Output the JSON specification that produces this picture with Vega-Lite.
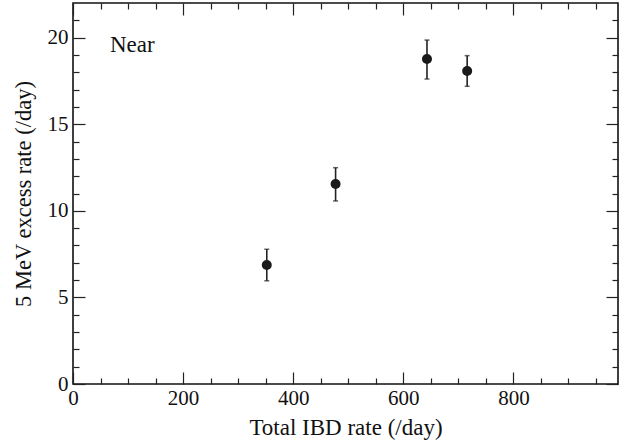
{
  "$schema": "https://vega.github.io/schema/vega-lite/v6.json",
  "width": 545,
  "height": 381,
  "autosize": {"type": "none"},
  "padding": {"left": 73, "top": 3, "right": 12, "bottom": 61},
  "background": "white",
  "config": {
    "view": {"stroke": "#111", "strokeWidth": 1.6},
    "axis": {"grid": false, "domain": false, "labelFont": "Liberation Serif", "titleFont": "Liberation Serif", "labelColor": "#111", "titleColor": "#111", "tickColor": "#222", "tickWidth": 1.2, "labelFlush": false, "labelOverlap": false, "titleFontWeight": "normal"}
  },
  "data": {
    "values": [
      {"rate": 352, "excess": 6.87, "lo": 5.96, "hi": 7.78},
      {"rate": 477, "excess": 11.55, "lo": 10.57, "hi": 12.49},
      {"rate": 643, "excess": 18.77, "lo": 17.61, "hi": 19.86},
      {"rate": 716, "excess": 18.07, "lo": 17.19, "hi": 18.96}
    ]
  },
  "resolve": {"axis": {"x": "independent", "y": "independent"}},
  "layer": [
    {
      "mark": {"type": "rule", "color": "#222", "strokeWidth": 1.6},
      "encoding": {
        "x": {"field": "rate", "type": "quantitative", "scale": {"domain": [0, 990], "nice": false, "zero": false},
          "axis": {"orient": "bottom", "values": [0, 200, 400, 600, 800], "ticks": false, "labelFontSize": 21, "labelPadding": 3, "title": "Total IBD rate (/day)", "titleFontSize": 23, "titlePadding": 8}},
        "y": {"field": "lo", "type": "quantitative", "scale": {"domain": [0, 22], "nice": false, "zero": false},
          "axis": {"orient": "left", "values": [0, 5, 10, 15, 20], "ticks": false, "labelFontSize": 21, "labelPadding": 5, "title": "5 MeV excess rate (/day)", "titleFontSize": 22.5, "titlePadding": 12}},
        "y2": {"field": "hi"}
      }
    },
    {
      "mark": {"type": "tick", "orient": "horizontal", "size": 5, "thickness": 1.5, "color": "#222"},
      "encoding": {
        "x": {"field": "rate", "type": "quantitative",
          "axis": {"orient": "bottom", "values": [0, 200, 400, 600, 800], "labels": false, "tickSize": -12, "title": null}},
        "y": {"field": "lo", "type": "quantitative",
          "axis": {"orient": "left", "values": [0, 5, 10, 15, 20], "labels": false, "tickSize": -12, "title": null}}
      }
    },
    {
      "mark": {"type": "tick", "orient": "horizontal", "size": 5, "thickness": 1.5, "color": "#222"},
      "encoding": {
        "x": {"field": "rate", "type": "quantitative",
          "axis": {"orient": "bottom", "values": [50, 100, 150, 250, 300, 350, 450, 500, 550, 650, 700, 750, 850, 900, 950], "labels": false, "tickSize": -6, "title": null}},
        "y": {"field": "hi", "type": "quantitative",
          "axis": {"orient": "left", "values": [1, 2, 3, 4, 6, 7, 8, 9, 11, 12, 13, 14, 16, 17, 18, 19, 21], "labels": false, "tickSize": -6, "title": null}}
      }
    },
    {
      "mark": {"type": "circle", "size": 100, "color": "#1a1a1a", "opacity": 1},
      "encoding": {
        "x": {"field": "rate", "type": "quantitative",
          "axis": {"orient": "top", "values": [0, 200, 400, 600, 800], "labels": false, "tickSize": -12, "title": null}},
        "y": {"field": "excess", "type": "quantitative",
          "axis": {"orient": "right", "values": [0, 5, 10, 15, 20], "labels": false, "tickSize": -12, "title": null}}
      }
    },
    {
      "data": {"values": [{"label": "Near"}]},
      "mark": {"type": "text", "font": "Liberation Serif", "fontSize": 23, "fontWeight": "normal", "align": "left", "baseline": "alphabetic", "color": "#111"},
      "encoding": {
        "text": {"field": "label"},
        "x": {"datum": 67, "type": "quantitative",
          "axis": {"orient": "top", "values": [50, 100, 150, 250, 300, 350, 450, 500, 550, 650, 700, 750, 850, 900, 950], "labels": false, "tickSize": -6, "title": null}},
        "y": {"datum": 19.15, "type": "quantitative",
          "axis": {"orient": "right", "values": [1, 2, 3, 4, 6, 7, 8, 9, 11, 12, 13, 14, 16, 17, 18, 19, 21], "labels": false, "tickSize": -6, "title": null}}
      }
    }
  ]
}
